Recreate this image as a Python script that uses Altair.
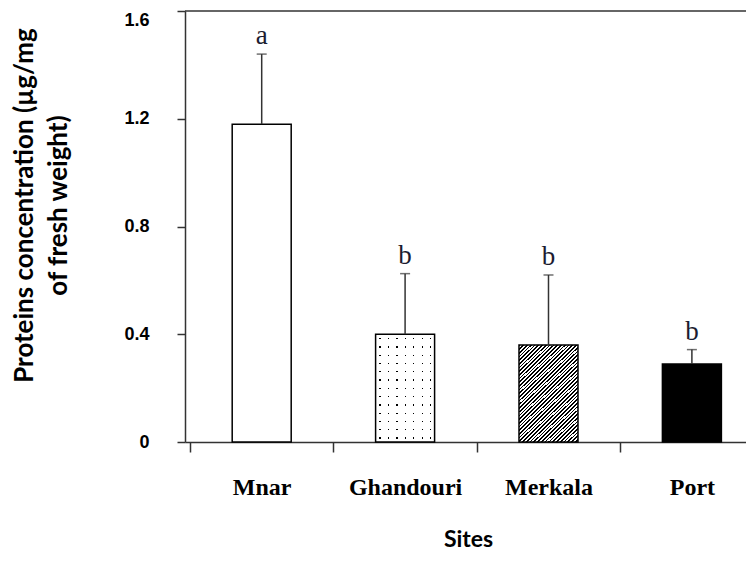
import altair as alt
import pandas as pd

# ---- data ----
sites = ["Mnar", "Ghandouri", "Merkala", "Port"]
means = [1.18, 0.40, 0.36, 0.29]
errors = [0.26, 0.225, 0.26, 0.053]
letters = ["a", "b", "b", "b"]
y_ticks = [0, 0.4, 0.8, 1.2, 1.6]

df = pd.DataFrame({"site": sites, "mean": means, "err": errors, "letter": letters})
df["pos"] = [i + 0.5 for i in range(len(sites))]
df["top"] = df["mean"] + df["err"]

W, H = 561, 431
AX = "#333333"


def stripes(n, frac, on, off, shift=0.0):
    st = [alt.GradientStop(color=off, offset=0)]
    for k in range(n):
        a = (k + shift) / n
        b = a + frac / n
        a = min(max(a, 0), 1)
        b = min(max(b, 0), 1)
        st += [alt.GradientStop(color=off, offset=a), alt.GradientStop(color=on, offset=a),
               alt.GradientStop(color=on, offset=b), alt.GradientStop(color=off, offset=b)]
    st.append(alt.GradientStop(color=off, offset=1))
    return st


hatch = alt.LinearGradient(gradient="linear", stops=stripes(42, 0.45, "black", "white"),
                           x1=0, y1=0, x2=0.7, y2=1.18)
dot_rows = alt.LinearGradient(gradient="linear", stops=stripes(13, 0.15, "black", "rgba(0,0,0,0)", 0.45),
                              x1=0, y1=0, x2=0, y2=1)
dot_mask = alt.LinearGradient(gradient="linear",
                              stops=stripes(7, 0.16, "rgba(255,255,255,0)", "white", 0.45),
                              x1=0, y1=0, x2=1, y2=0)

site_arr = "[" + ",".join("'%s'" % s for s in sites) + "]"

x_enc = alt.X(
    "pos:Q",
    scale=alt.Scale(domain=[0, W / 146], nice=False, zero=False),
    axis=alt.Axis(
        values=[0, 0.5, 1, 1.5, 2, 2.5, 3, 3.5],
        labelExpr="datum.value % 1 == 0 ? '' : " + site_arr + "[floor(datum.value)]",
        tickSize=10,
        tickOpacity={"condition": {"test": "datum.value % 1 != 0", "value": 0}, "value": 1},
        labelPadding=23, labelBaseline="top",
        labelFont="Liberation Serif", labelFontWeight="bold", labelFontSize=24, labelColor="black",
        labelFlush=False, labelOverlap=False,
        title="Sites", titleFont="Lato", titleFontSize=23, titleFontWeight="bold", titleColor="black",
        titleX=283, titleY=104, titleBaseline="alphabetic", titleAlign="center",
        grid=False, domainColor=AX, domainWidth=1.5, tickColor=AX, tickWidth=1.5,
    ),
)

y_enc = alt.Y(
    "mean:Q",
    scale=alt.Scale(domain=[0, 1.6], nice=False),
    axis=alt.Axis(
        values=y_ticks,
        labelExpr="datum.value == 0 ? '0' : format(datum.value, '.1f')",
        labelBaseline={"condition": {"test": "datum.value >= 1.6", "value": "top"}, "value": "middle"},
        labelFlush=False,
        tickSize=8, labelPadding=28,
        labelFont="Liberation Sans", labelFontWeight="bold", labelFontSize=18, labelColor="black",
        title=["Proteins concentration (µg/mg", "of fresh weight)"],
        titleFont="Lato", titleFontSize=26, titleFontWeight="bold", titleColor="black",
        titleX=-174, titleY=194, titleAlign="center", titleBaseline="top", titleLineHeight=34,
        titleAngle=270,
        grid=False, domainColor=AX, domainWidth=1.5, tickColor=AX, tickWidth=1.5,
    ),
)

base = alt.Chart(df)

white = base.mark_bar(fill="white", width=59).encode(x=x_enc, y=y_enc).transform_filter(
    alt.FieldOneOfPredicate(field="site", oneOf=["Mnar", "Ghandouri"]))
rows = base.mark_bar(fill=dot_rows, width=59).encode(x="pos:Q", y="mean:Q").transform_filter(
    alt.datum.site == "Ghandouri")
mask = base.mark_bar(fill=dot_mask, width=59).encode(x="pos:Q", y="mean:Q").transform_filter(
    alt.datum.site == "Ghandouri")
hatched = base.mark_bar(fill=hatch, width=59).encode(x="pos:Q", y="mean:Q").transform_filter(
    alt.datum.site == "Merkala")
black = base.mark_bar(fill="black", width=59).encode(x="pos:Q", y="mean:Q").transform_filter(
    alt.datum.site == "Port")
outline = base.mark_bar(fillOpacity=0, stroke="black", strokeWidth=1.5, width=59).encode(
    x="pos:Q", y="mean:Q")

err_rule = base.mark_rule(color=AX, strokeWidth=1.5).encode(x="pos:Q", y="mean:Q", y2="top:Q")
err_cap = base.mark_tick(orient="horizontal", size=10, thickness=1.5, color=AX).encode(
    x="pos:Q", y="top:Q")
labels = base.mark_text(dy=-10, baseline="alphabetic", font="Liberation Serif", fontSize=27,
                        color="#1c1c30").encode(x="pos:Q", y="top:Q", text="letter:N")

top_line = alt.Chart(pd.DataFrame({"k": [0]})).mark_rule(color=AX, strokeWidth=1.5).encode(
    y=alt.value(0), x=alt.value(0), x2=alt.value(W))

chart = alt.layer(white, rows, mask, hatched, black, outline, err_rule, err_cap, labels, top_line).properties(
    width=W, height=H,
    padding={"left": 177, "top": 3, "right": 0, "bottom": 112},
    autosize=alt.AutoSizeParams(type="none"),
).configure_view(strokeWidth=0)

chart.save("out.html", embed_options={"renderer": "svg", "actions": False})
